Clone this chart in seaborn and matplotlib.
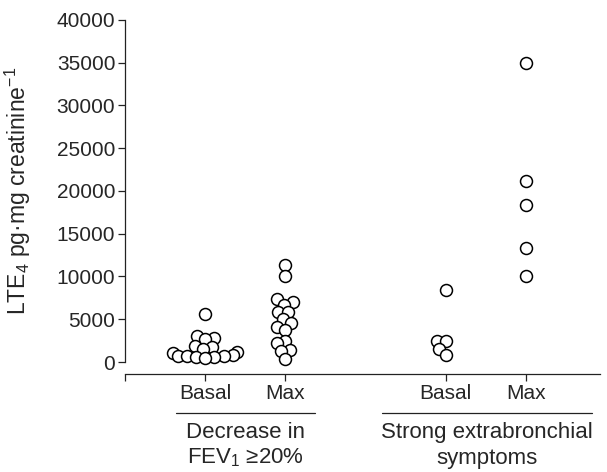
import numpy as np
import pandas as pd
import matplotlib
matplotlib.use('Agg')
import matplotlib.pyplot as plt
import seaborn as sns

# values (LTE4, pg/mg creatinine)
fev_basal = [5600, 3100, 2750, 2700, 1900, 1750, 1500, 1200, 1000, 800, 750, 700, 650, 600, 550, 500]
fev_max = [11300, 10000, 7400, 7000, 6700, 5900, 5800, 5000, 4600, 4100, 3800, 2400, 2200, 1400, 1300, 400]
sym_basal = [8400, 2500, 2450, 1500, 850]
sym_max = [35000, 21200, 18400, 13300, 10000]

order = ['pad', 'fev_basal', 'fev_max', 'gap', 'sym_basal', 'sym_max']
tick_labels = ['', 'Basal', 'Max', 'Basal', 'Max']

df = pd.concat([
    pd.DataFrame({'group': 'fev_basal', 'value': fev_basal}),
    pd.DataFrame({'group': 'fev_max', 'value': fev_max}),
    pd.DataFrame({'group': 'sym_basal', 'value': sym_basal}),
    pd.DataFrame({'group': 'sym_max', 'value': sym_max}),
], ignore_index=True)

sns.set_style('ticks')
plt.rcParams['font.family'] = ['Liberation Sans', 'DejaVu Sans']
plt.rcParams['mathtext.fontset'] = 'custom'
plt.rcParams['mathtext.rm'] = 'Liberation Sans'
plt.rcParams['mathtext.it'] = 'Liberation Sans'
plt.rcParams['mathtext.default'] = 'regular'
fs = 15

fig = plt.figure(figsize=(6.07, 4.72), dpi=100)
ax = fig.add_axes([0.206, 0.233, 0.782, 0.725])

# lay the swarm out with small markers so the circles overlap like the original
sns.swarmplot(data=df, x='group', y='value', order=order, ax=ax,
              color='white', edgecolor='black', linewidth=1.1, size=5.2)

ax.set_ylim(0, 40000)
ax.set_xlim(0, 5.92)
ax.set_yticks(np.arange(0, 40001, 5000))
ax.set_xticks([0, 1, 2, 4, 5])
ax.set_xticklabels(tick_labels)
ax.set_xlabel('')
ax.set_ylabel('LTE$_4$ pg·mg creatinine$^{-1}$', fontsize=16.5, labelpad=17)
ax.tick_params(axis='both', length=5, width=0.9, labelsize=fs, color='#222222')
ax.tick_params(axis='x', pad=2)
ax.tick_params(axis='y', pad=2)

sns.despine(ax=ax)
ax.spines['bottom'].set_position(('outward', 8.6))
for s in ['left', 'bottom']:
    ax.spines[s].set_linewidth(0.9)
    ax.spines[s].set_color('#222222')

# freeze the swarm positions, then enlarge the circles
fig.canvas.draw()
for c in ax.collections:
    if 'draw' in c.__dict__:
        del c.draw
    c.set_sizes([8.6 ** 2])
    c.set_clip_on(False)

# group bars and captions beneath the tick labels
tr = ax.get_xaxis_transform()
for x0, x1, lines in [(0.63, 2.37, ['Decrease in', 'FEV$_1$ ≥20%']),
                      (3.2, 5.83, ['Strong extrabronchial', 'symptoms'])]:
    ax.plot([x0, x1], [-0.149, -0.149], transform=tr, color='#222222', lw=0.9, clip_on=False)
    xm = (x0 + x1) / 2
    ax.text(xm, -0.205, lines[0], transform=tr, ha='center', va='center', fontsize=16)
    ax.text(xm, -0.281, lines[1], transform=tr, ha='center', va='center', fontsize=16)

fig.savefig('out.png', dpi=100)
